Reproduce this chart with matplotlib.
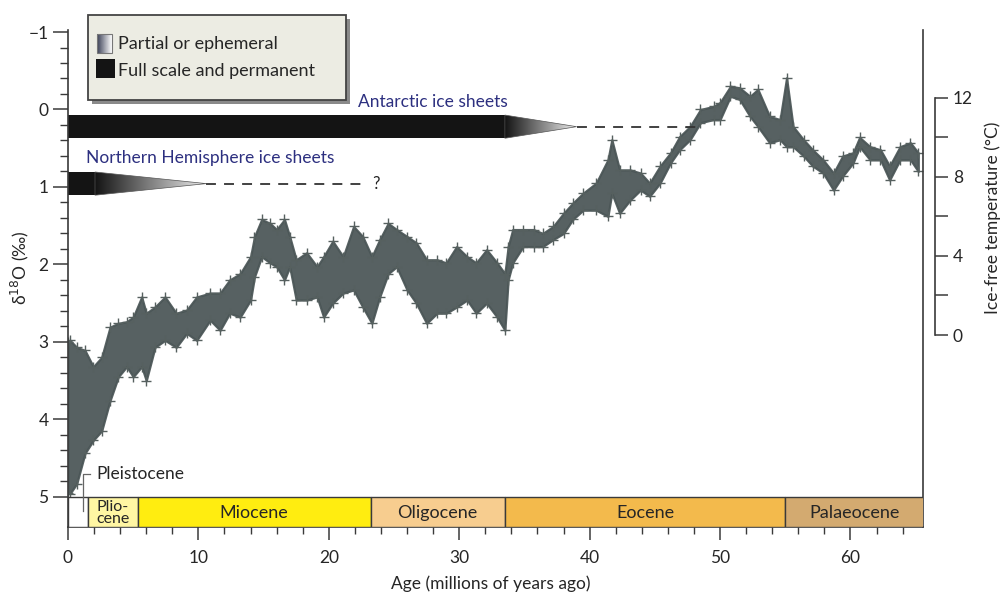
import numpy as np
import matplotlib.pyplot as plt
from matplotlib.patches import Rectangle, Polygon
from matplotlib.colors import LinearSegmentedColormap

plt.rcParams['font.family'] = ['Lato', 'DejaVu Sans']

# benthic d18O band (upper / lower edge of the cloud)
age_ma = [0.0, 0.15, 0.67, 1.3, 1.94, 2.58, 3.22, 3.86, 4.5, 5.0, 5.65, 6.0, 6.67,
          7.44, 8.3, 9.1, 9.87, 10.9, 11.66, 12.4, 13.2, 14.0, 14.3, 14.85, 15.5,
          16.0, 16.6, 17.0, 17.5, 18.3, 19.1, 19.6, 20.3, 21.1, 21.9, 22.6, 23.3,
          23.9, 24.55, 25.2, 26.0, 26.7, 27.5, 28.3, 29.0, 29.8, 30.6, 31.3, 32.1,
          32.9, 33.5, 33.75, 34.1, 34.9, 35.7, 36.4, 37.2, 38.0, 38.7, 39.5, 40.5,
          41.4, 41.7, 42.3, 43.1, 43.9, 44.6, 45.4, 46.2, 46.9, 47.7, 48.5, 49.5,
          50.0, 50.8, 51.5, 52.3, 52.9, 53.8, 54.6, 55.1, 55.6, 56.4, 57.1, 57.9,
          58.7, 59.4, 60.2, 60.7, 61.5, 62.3, 63.0, 63.8, 64.6, 65.2]
d18o_upper = [3.00, 2.98, 3.07, 3.11, 3.32, 3.20, 2.81, 2.76, 2.74, 2.68, 2.42, 2.63, 2.55,
              2.42, 2.63, 2.59, 2.42, 2.37, 2.37, 2.20, 2.12, 1.90, 1.64, 1.42, 1.47,
              1.55, 1.42, 1.64, 1.94, 1.85, 2.03, 1.90, 1.70, 1.90, 1.51, 1.64, 1.90,
              1.68, 1.47, 1.55, 1.64, 1.72, 1.94, 1.94, 1.98, 1.77, 1.90, 1.98, 1.81,
              1.98, 2.12, 1.77, 1.55, 1.55, 1.55, 1.60, 1.51, 1.34, 1.21, 1.08, 0.95,
              0.65, 0.39, 0.78, 0.78, 0.82, 0.95, 0.73, 0.56, 0.35, 0.22, 0.00, -0.04,
              -0.09, -0.30, -0.28, -0.17, -0.26, 0.09, 0.13, -0.41, 0.22, 0.39, 0.52, 0.65,
              0.82, 0.60, 0.56, 0.36, 0.48, 0.52, 0.73, 0.48, 0.43, 0.56]
d18o_lower = [4.95, 4.96, 4.83, 4.44, 4.27, 4.15, 3.76, 3.45, 3.32, 3.45, 3.32, 3.50, 3.07,
              2.98, 3.07, 2.89, 2.98, 2.72, 2.85, 2.63, 2.68, 2.46, 2.16, 1.90, 1.98,
              2.03, 2.20, 2.03, 2.46, 2.46, 2.42, 2.68, 2.50, 2.37, 2.33, 2.55, 2.76,
              2.42, 2.12, 2.03, 2.33, 2.50, 2.76, 2.63, 2.63, 2.55, 2.46, 2.63, 2.50,
              2.68, 2.85, 2.20, 1.98, 1.77, 1.77, 1.77, 1.68, 1.60, 1.42, 1.30, 1.30,
              1.38, 1.08, 1.34, 1.17, 1.04, 1.12, 0.95, 0.69, 0.52, 0.39, 0.17, 0.13,
              0.13, -0.17, -0.13, 0.09, 0.22, 0.43, 0.39, 0.48, 0.48, 0.60, 0.73, 0.82,
              1.04, 0.86, 0.69, 0.48, 0.65, 0.65, 0.91, 0.65, 0.65, 0.80]

# geological epochs (Ma)
epoch_names = ['Pleistocene', 'Plio-\ncene', 'Miocene', 'Oligocene', 'Eocene', 'Palaeocene']
epoch_edges = [0, 1.56, 5.35, 23.2, 33.5, 55.0, 65.6]
epoch_colors = ['#ffffff', '#fff6a3', '#ffed10', '#f7cd8f', '#f3ba4c', '#d3aa70']

# ice sheets: full-scale end, partial end, dashed end (Ma) and row position (d18O)
ice_names = ['Antarctic ice sheets', 'Northern Hemisphere ice sheets']
ice_full_end = [33.5, 2.07]
ice_partial_end = [39.0, 10.6]
ice_dash_end = [48.4, 22.6]
ice_row = [0.222, 0.957]

# right-hand ice-free temperature scale
temp_ticks = [0, 2, 4, 6, 8, 10, 12]
temp_ticklabels = ['0', '', '4', '', '8', '', '12']
temp_ref_degc = [0, 12]
temp_ref_d18o = [2.912, -0.152]

ink = '#3a3a3a'
cloud = '#4a5556'
navy = '#2d3080'

fig = plt.figure(figsize=(10.04, 5.95), dpi=100)
ax = fig.add_axes([68 / 1004, 68 / 595, 855.5 / 1004, 497 / 595])
ylo, yhi = 5.39, -1.026
ax.set_xlim(0, 65.6)
ax.set_ylim(ylo, yhi)

# data cloud: solid band plus '+' marks along its ragged edges
ax.fill_between(age_ma, d18o_upper, d18o_lower, facecolor=cloud, edgecolor=cloud,
                lw=1.6, alpha=0.93, zorder=2)
ax.plot(age_ma, d18o_upper, ls='none', marker='+', ms=6.5, mew=1.0, color='#56605f',
        zorder=2)
ax.plot(age_ma, d18o_lower, ls='none', marker='+', ms=6.5, mew=1.0, color='#56605f',
        zorder=2)

# ice sheet bars
taper = LinearSegmentedColormap.from_list('taper', ['#141414', '#eeeeee'])
half = 0.15
for name, full, part, dash, row in zip(ice_names, ice_full_end, ice_partial_end,
                                       ice_dash_end, ice_row):
    ax.add_patch(Rectangle((0, row - half), full, 2 * half, facecolor='#141414',
                           edgecolor='none', zorder=4))
    tri = Polygon([(full, row - half), (full, row + half), (part, row)], closed=True,
                  facecolor='none', edgecolor='#555555', lw=0.5, zorder=5)
    ax.add_patch(tri)
    im = ax.imshow(np.linspace(0, 1, 256)[None, :], cmap=taper, aspect='auto',
                   extent=(full, part, row + half, row - half), interpolation='bilinear',
                   zorder=4)
    im.set_clip_path(tri)
    ax.plot([part, dash], [row, row], color='#333333', lw=1.3, ls=(0, (5.5, 4.5)),
            zorder=4)
ax.text(28.0, -0.10, ice_names[0], color=navy, fontsize=12.5, ha='center', va='center')
ax.text(1.4, 0.63, ice_names[1], color=navy, fontsize=12.5, ha='left', va='center')
ax.text(ice_dash_end[1] + 0.7, ice_row[1], '?', color='#222222', fontsize=12,
        ha='left', va='center')

# epoch strip
for i, name in enumerate(epoch_names):
    x0, x1 = epoch_edges[i], epoch_edges[i + 1]
    ax.add_patch(Rectangle((x0, 5.0), x1 - x0, ylo - 5.0, facecolor=epoch_colors[i],
                           edgecolor=ink, lw=1.0, zorder=3))
    if i == 0:
        continue
    fs = 11.5 if i == 1 else 13
    ax.text((x0 + x1) / 2, (5.0 + ylo) / 2 + 0.01, name, ha='center', va='center',
            fontsize=fs, color='#262626', linespacing=0.8, zorder=4)
ax.plot([1.17, 1.17, 1.69], [5.18, 4.71, 4.71], color='#666666', lw=0.9, zorder=4)
ax.text(2.2, 4.71, epoch_names[0], fontsize=12.5, color='#262626', ha='left', va='center')

ax.set_xlim(0, 65.6)
ax.set_ylim(ylo, yhi)

# axes styling
ax.spines['top'].set_visible(False)
for side in ['left', 'bottom', 'right']:
    ax.spines[side].set_color(ink)
    ax.spines[side].set_linewidth(1.2)
ax.spines['left'].set_zorder(6)
ax.set_yticks(range(-1, 6))
ax.set_yticks([v / 5 for v in range(-5, 26) if v % 5], minor=True)
ax.set_xticks(range(0, 61, 10))
ax.set_xticks([v for v in range(2, 66, 2) if v % 10], minor=True)
ax.tick_params(axis='both', which='major', direction='out', color=ink, width=1.1,
               labelsize=12.5, labelcolor='#262626')
ax.tick_params(axis='y', which='major', length=11, pad=3, right=False)
ax.tick_params(axis='y', which='minor', length=6, width=1.0, color=ink, right=False)
ax.tick_params(axis='x', which='major', length=9.5, pad=7)
ax.tick_params(axis='x', which='minor', length=5, width=1.0, color=ink)

# temperature axis
tax = ax.twinx()
t_per_d = (temp_ref_degc[1] - temp_ref_degc[0]) / (temp_ref_d18o[1] - temp_ref_d18o[0])
tax.set_ylim(temp_ref_degc[0] + (ylo - temp_ref_d18o[0]) * t_per_d,
             temp_ref_degc[0] + (yhi - temp_ref_d18o[0]) * t_per_d)
for side in ['top', 'left', 'bottom']:
    tax.spines[side].set_visible(False)
tax.spines['right'].set_position(('outward', 8))
tax.spines['right'].set_bounds(temp_ref_degc[0], temp_ref_degc[1])
tax.spines['right'].set_color(ink)
tax.spines['right'].set_linewidth(1.2)
tax.set_yticks(temp_ticks)
tax.set_yticklabels(temp_ticklabels)
tax.tick_params(axis='y', direction='out', length=9, width=1.1, color=ink, pad=4,
                labelsize=12.5, labelcolor='#262626')

# axis titles
fig.text(491 / 1004, 1 - 584 / 595, 'Age (millions of years ago)', ha='center',
         va='center', fontsize=12.5, color='#262626')
fig.text(20 / 1004, 1 - 268 / 595, 'δ$^{18}$O (‰)', rotation=90, ha='center',
         va='center', fontsize=12.5, color='#262626')
fig.text(993 / 1004, 1 - 218 / 595, 'Ice-free temperature (°C)', rotation=90,
         ha='center', va='center', fontsize=12.5, color='#262626')

# key box
lax = fig.add_axes([88 / 1004, 1 - 100 / 595, 258 / 1004, 85 / 595], zorder=10)
lax.set_xlim(0, 258)
lax.set_ylim(85, 0)
lax.axis('off')
lax.add_patch(Rectangle((4, 4), 258, 85, facecolor='#8a8a8a', edgecolor='none',
                        clip_on=False, zorder=1))
lax.add_patch(Rectangle((0, 0), 258, 85, facecolor='#ececE3', edgecolor='#444444',
                        lw=1.3, clip_on=False, zorder=2))
sw = lax.imshow(np.linspace(0, 1, 64)[None, :],
                cmap=LinearSegmentedColormap.from_list('sw', ['#3a3f55', '#ffffff']),
                extent=(9, 24, 38, 19), aspect='auto', zorder=3)
lax.add_patch(Rectangle((9, 19), 15, 19, facecolor='none', edgecolor='#777777', lw=0.8,
                        zorder=4))
lax.add_patch(Rectangle((8, 44), 19, 19, facecolor='#141414', edgecolor='none', zorder=3))
lax.set_xlim(0, 258)
lax.set_ylim(85, 0)
lax.text(30, 29, 'Partial or ephemeral', fontsize=13, color='#262626', va='center', zorder=5)
lax.text(30, 56, 'Full scale and permanent', fontsize=13, color='#262626', va='center',
         zorder=5)

fig.savefig('out.png', dpi=100)
